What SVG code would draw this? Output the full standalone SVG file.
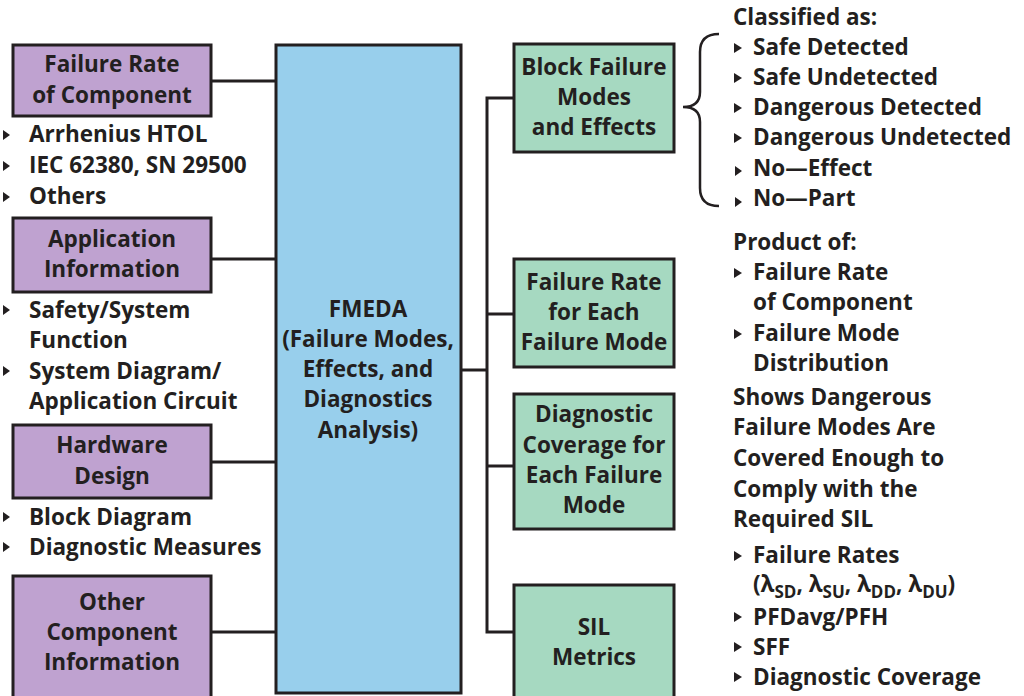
<svg xmlns="http://www.w3.org/2000/svg" width="1024" height="696" viewBox="0 0 1024 696">
<style>
text{font-family:"Open Sans","Liberation Sans",sans-serif;font-weight:700;font-size:22.5px;fill:#231f20}
.c{text-anchor:middle}
.box{stroke:#231f20;stroke-width:3}
.p{fill:#bfa2d0}
.b{fill:#98cfec}
.g{fill:#a6d9c1}
.ln{fill:none;stroke:#231f20;stroke-width:3}
.br{fill:none;stroke:#231f20;stroke-width:2.5}
.sub{font-size:17px}
</style>
<defs>
<path id="tri" d="M0,-5 L8,0 L0,5 Z" fill="#231f20"/>
<path id="tris" d="M0,-5 L7,0 L0,5 Z" fill="#231f20"/>
</defs>
<rect width="1024" height="696" fill="#fff"/>

<g id="connectors">
<line class="ln" x1="211" y1="81" x2="276" y2="81"/>
<line class="ln" x1="211" y1="259" x2="276" y2="259"/>
<line class="ln" x1="211" y1="462" x2="276" y2="462"/>
<line class="ln" x1="211" y1="632" x2="276" y2="632"/>
<line class="ln" x1="461" y1="370" x2="487" y2="370"/>
<polyline class="ln" points="514,98 487,98 487,632 514,632"/>
<line class="ln" x1="487" y1="314" x2="514" y2="314"/>
<line class="ln" x1="487" y1="466" x2="514" y2="466"/>
</g>

<g id="failure-rate-component">
<rect class="box p" x="13" y="45" width="198" height="71"/>
<text class="c" x="112" y="72">Failure Rate</text>
<text class="c" x="112" y="103">of Component</text>
<use href="#tris" x="3" y="135"/><text x="29" y="142">Arrhenius HTOL</text>
<use href="#tris" x="3" y="166"/><text x="29" y="173">IEC 62380, SN 29500</text>
<use href="#tris" x="3" y="197"/><text x="29" y="204">Others</text>
</g>

<g id="application-information">
<rect class="box p" x="13" y="218" width="198" height="74"/>
<text class="c" x="112" y="247">Application</text>
<text class="c" x="112" y="277">Information</text>
<use href="#tris" x="3" y="310"/><text x="29" y="318">Safety/System</text>
<text x="29" y="348">Function</text>
<use href="#tris" x="3" y="371"/><text x="29" y="379">System Diagram/</text>
<text x="29" y="409">Application Circuit</text>
</g>

<g id="hardware-design">
<rect class="box p" x="13" y="425" width="198" height="73"/>
<text class="c" x="112" y="453">Hardware</text>
<text class="c" x="112" y="484">Design</text>
<use href="#tris" x="3" y="517"/><text x="29" y="525">Block Diagram</text>
<use href="#tris" x="3" y="547"/><text x="29" y="555">Diagnostic Measures</text>
</g>

<g id="other-component-information">
<rect class="box p" x="13" y="576" width="198" height="130"/>
<text class="c" x="112" y="610">Other</text>
<text class="c" x="112" y="640">Component</text>
<text class="c" x="112" y="670">Information</text>
</g>

<g id="fmeda">
<rect class="box b" x="276" y="45" width="185" height="648"/>
<text class="c" x="368" y="317">FMEDA</text>
<text class="c" x="368" y="347">(Failure Modes,</text>
<text class="c" x="368" y="377">Effects, and</text>
<text class="c" x="368" y="407">Diagnostics</text>
<text class="c" x="368" y="438">Analysis)</text>
</g>

<g id="block-failure-modes">
<rect class="box g" x="514" y="44" width="160" height="108"/>
<text class="c" x="594" y="75">Block Failure</text>
<text class="c" x="594" y="105">Modes</text>
<text class="c" x="594" y="135">and Effects</text>
</g>

<g id="classification">
<path class="br" d="M719,34 Q700,34 700,52 L700,92 Q700,107 683,107 Q700,107 700,122 L700,188 Q700,206 719,206"/>
<text x="733" y="25">Classified as:</text>
<use href="#tri" x="734" y="48"/><text x="753" y="55">Safe Detected</text>
<use href="#tri" x="734" y="78"/><text x="753" y="85">Safe Undetected</text>
<use href="#tri" x="734" y="108"/><text x="753" y="115">Dangerous Detected</text>
<use href="#tri" x="734" y="138"/><text x="753" y="145">Dangerous Undetected</text>
<use href="#tris" x="735" y="171"/><text x="753" y="176">No—Effect</text>
<use href="#tris" x="735" y="202"/><text x="753" y="206">No—Part</text>
</g>

<g id="failure-rate-each-mode">
<rect class="box g" x="514" y="259" width="160" height="108"/>
<text class="c" x="594" y="290">Failure Rate</text>
<text class="c" x="594" y="320">for Each</text>
<text class="c" x="594" y="350">Failure Mode</text>
</g>

<g id="product-of">
<text x="733" y="250">Product of:</text>
<use href="#tri" x="734" y="273"/><text x="753" y="280">Failure Rate</text>
<text x="753" y="310">of Component</text>
<use href="#tri" x="734" y="334"/><text x="753" y="341">Failure Mode</text>
<text x="753" y="371">Distribution</text>
</g>

<g id="diagnostic-coverage">
<rect class="box g" x="514" y="394" width="160" height="135"/>
<text class="c" x="594" y="422">Diagnostic</text>
<text class="c" x="594" y="453">Coverage for</text>
<text class="c" x="594" y="483">Each Failure</text>
<text class="c" x="594" y="513">Mode</text>
</g>

<g id="shows-dangerous">
<text x="733" y="405">Shows Dangerous</text>
<text x="733" y="435">Failure Modes Are</text>
<text x="733" y="466">Covered Enough to</text>
<text x="733" y="497">Comply with the</text>
<text x="733" y="527">Required SIL</text>
</g>

<g id="sil-metrics">
<rect class="box g" x="514" y="585" width="160" height="120"/>
<text class="c" x="594" y="635">SIL</text>
<text class="c" x="594" y="665">Metrics</text>
</g>

<g id="metrics-list">
<use href="#tri" x="734" y="556"/><text x="753" y="563">Failure Rates</text>
<text x="753" y="592">(λ<tspan class="sub" dy="6">SD</tspan><tspan dy="-6">, λ</tspan><tspan class="sub" dy="6">SU</tspan><tspan dy="-6">, λ</tspan><tspan class="sub" dy="6">DD</tspan><tspan dy="-6">, λ</tspan><tspan class="sub" dy="6">DU</tspan><tspan dy="-6">)</tspan></text>
<use href="#tri" x="734" y="617"/><text x="753" y="625">PFDavg/PFH</text>
<use href="#tri" x="734" y="647"/><text x="753" y="655">SFF</text>
<use href="#tri" x="734" y="677"/><text x="753" y="685">Diagnostic Coverage</text>
</g>
</svg>
